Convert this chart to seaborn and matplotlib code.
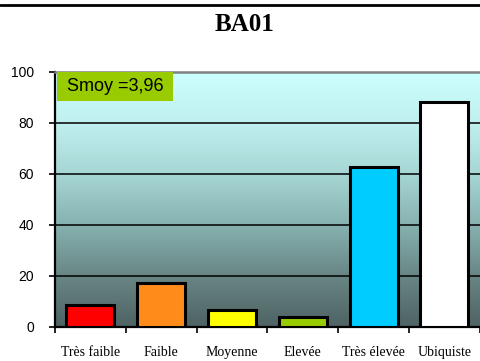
import numpy as np
import pandas as pd
import matplotlib
matplotlib.use('Agg')
import matplotlib.pyplot as plt
from matplotlib.patches import Rectangle
from matplotlib.colors import LinearSegmentedColormap
import seaborn as sns

TITLE = 'BA01'
CATEGORIES = ['Très faible', 'Faible', 'Moyenne', 'Elevée', 'Très élevée', 'Ubiquiste']
VALUES = [8.6, 17.0, 6.4, 4.0, 62.7, 88.2]
BAR_COLORS = ['#ff0000', '#ff8c1a', '#ffff00', '#99cc00', '#00ccff', '#ffffff']
SMOY_LABEL = 'Smoy =3,96'
Y_TICKS = [0, 20, 40, 60, 80, 100]

sns.set_style('white')
plt.rcParams['text.color'] = 'black'
plt.rcParams['xtick.color'] = 'black'
plt.rcParams['ytick.color'] = 'black'

df = pd.DataFrame({'classe': CATEGORIES, 'pct': VALUES})

fig = plt.figure(figsize=(4.8, 3.61), dpi=100)
ax = fig.add_axes([0.1146, 0.095, 0.885, 0.706])

# background gradient light cyan (top) -> dark teal grey (bottom)
bg_cmap = LinearSegmentedColormap.from_list('bg', [
    (0.0, '#ccffff'), (0.2, '#c0efef'), (0.4, '#a6d6d4'),
    (0.6, '#86b2b0'), (0.8, '#688685'), (1.0, '#4f6363')])
grad = np.linspace(0, 1, 256)[:, None]
ax.imshow(grad, cmap=bg_cmap, extent=[0, 1, 0, 1], transform=ax.transAxes,
          aspect='auto', zorder=0)

sns.barplot(data=df, x='classe', y='pct', hue='classe', palette=BAR_COLORS, legend=False,
            width=0.68, edgecolor='black', linewidth=2.2, saturation=1, ax=ax, zorder=3)

ax.set_ylim(0, 100)
ax.set_xlim(-0.5, len(CATEGORIES) - 0.5)
ax.set_yticks(Y_TICKS)
for yv in Y_TICKS[1:-1]:
    ax.axhline(yv, color='black', linewidth=1.1, zorder=2)

ax.set_xlabel('')
ax.set_ylabel('')
ax.set_xticks(range(len(CATEGORIES)))
ax.set_xticklabels(CATEGORIES, fontfamily='Liberation Serif', fontsize=10, color='black')
ax.set_xticks(np.arange(-0.5, len(CATEGORIES) - 0.4, 1), minor=True)
ax.tick_params(axis='x', which='major', length=0, pad=14)
ax.tick_params(axis='x', which='minor', length=4, width=1.2, color='black', direction='out', bottom=True)
ax.tick_params(axis='y', length=4, width=1.2, color='black', direction='out', left=True, pad=11)
for lab in ax.get_yticklabels():
    lab.set_fontfamily('Liberation Sans')
    lab.set_fontsize(10)
    lab.set_color('black')

for side in ['left', 'bottom']:
    ax.spines[side].set_color('black')
    ax.spines[side].set_linewidth(1.6)
ax.spines['top'].set_color('#808080')
ax.spines['top'].set_linewidth(1.8)
ax.spines['right'].set_visible(False)

# Smoy label box
ax.add_patch(Rectangle((0.005, 0.887), 0.273, 0.113, transform=ax.transAxes,
                       facecolor='#99cc00', edgecolor='none', zorder=5))
ax.text(0.028, 0.944, SMOY_LABEL, transform=ax.transAxes, ha='left', va='center',
        fontfamily='Liberation Sans', fontsize=13, color='black', zorder=6)

fig.text(0.51, 0.932, TITLE, ha='center', va='center', fontfamily='Liberation Serif',
         fontweight='bold', fontsize=18, color='black')
fig.add_artist(plt.Line2D([0, 1], [0.986, 0.986], color='black', linewidth=2, transform=fig.transFigure))

fig.savefig('out.png', dpi=100)
